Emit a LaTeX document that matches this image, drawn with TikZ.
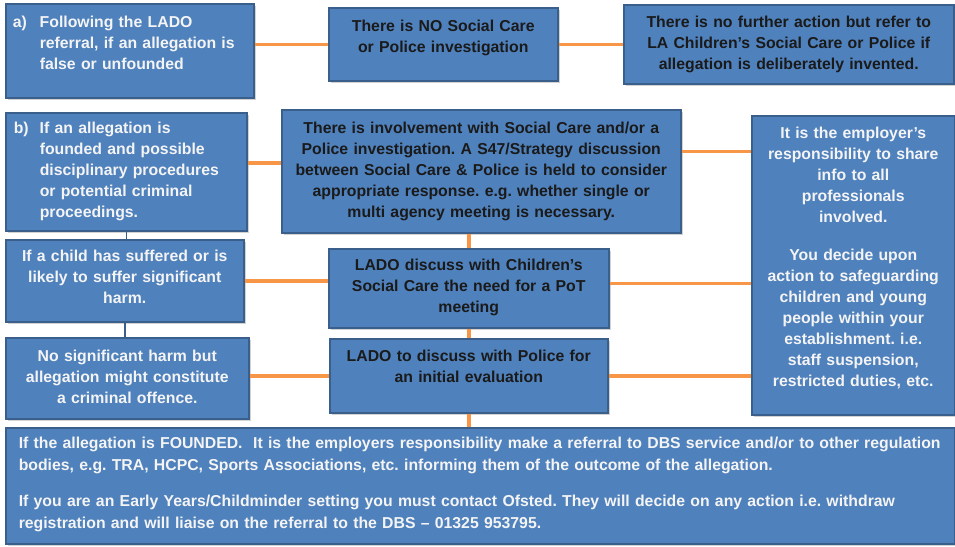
\documentclass[tikz,border=0pt]{standalone}
\usepackage{fontspec}
\setmainfont{Liberation Sans}
\usetikzlibrary{shadows}
\definecolor{boxfill}{HTML}{4F81BD}
\definecolor{boxline}{HTML}{3A5F8B}
\definecolor{linkor}{HTML}{F79646}
\definecolor{darktxt}{HTML}{1A1A1A}
\definecolor{lighttxt}{HTML}{F4F4F4}
\frenchspacing

\begin{document}
\begin{tikzpicture}[x=1pt,y=-1pt,
  every node/.style={font=\fontsize{15.8}{21}\selectfont\bfseries},
  blk/.style={draw=boxline,fill=boxfill,line width=1.5pt,anchor=north west,inner xsep=5pt,inner ysep=0pt,
    drop shadow={shadow xshift=2pt,shadow yshift=-2pt,opacity=0.35}},
  wtxt/.style={blk,text=lighttxt},
  dtxt/.style={blk,text=darktxt},
  link/.style={linkor,line width=3.5pt},
  bluelink/.style={boxline,line width=1.5pt}]
\fill[white] (0,0) rectangle (955,546);
\useasboundingbox (0,0) rectangle (955,546);

\node[wtxt,align=left,text width=238pt,text height=24pt,text depth=70pt] (lado_a) at (5,3)
  {\makebox[29pt][l]{\hspace{2pt}a)}Following the LADO\\\hspace*{29pt}referral, if an allegation is\\\hspace*{29pt}false or unfounded};
\node[dtxt,align=center,text width=219pt,text height=23.5pt,text depth=49.5pt] (nosc) at (328,7)
  {There is NO Social Care\\or Police investigation};
\node[dtxt,align=center,text width=320pt,text height=23pt,text depth=56pt] (nofur) at (623,4)
  {There is no further action but refer to\\LA Children's Social Care or Police if\\allegation is deliberately invented.};

\node[wtxt,align=left,text width=231pt,text height=21pt,text depth=97pt] (lado_b) at (5,112)
  {\makebox[29pt][l]{\hspace{3pt}b)}If an allegation is\\\hspace*{29pt}founded and possible\\\hspace*{29pt}disciplinary procedures\\\hspace*{29pt}or potential criminal\\\hspace*{29pt}proceedings.};
\node[dtxt,align=center,text width=389pt,text height=24pt,text depth=99pt] (s47) at (281,109)
  {There is involvement with Social Care and/or a\\Police investigation. A S47/Strategy discussion\\between Social Care \& Police is held to consider\\appropriate response. e.g. whether single or\\multi agency meeting is necessary.};
\node[wtxt,align=center,text width=193pt,text height=23pt,text depth=276pt] (emp) at (751,115)
  {It is the employer's\\responsibility to share\\info to all\\professionals\\involved.\\[17pt]You decide upon\\action to safeguarding\\children and young\\people within your\\establishment. i.e.\\staff suspension,\\restricted duties, etc.};

\node[wtxt,align=center,text width=228pt,text height=22pt,text depth=60pt] (child) at (5,239)
  {If a child has suffered or is\\likely to suffer significant\\harm.};
\node[dtxt,align=center,text width=270pt,text height=22pt,text depth=57pt] (losc) at (328,248)
  {LADO discuss with Children's\\Social Care the need for a PoT\\meeting};

\node[wtxt,align=center,text width=233pt,text height=24pt,text depth=57pt] (nharm) at (5,337)
  {No significant harm but\\allegation might constitute\\a criminal offence.};
\node[dtxt,align=center,text width=268pt,text height=23pt,text depth=51pt] (lpol) at (329,338)
  {LADO to discuss with Police for\\an initial evaluation};

\node[wtxt,align=left,inner xsep=13pt,text width=923pt,text height=21pt,text depth=95pt,
  font=\fontsize{15.8}{22}\selectfont\bfseries] (found) at (5,427)
  {If the allegation is FOUNDED.\ \ It is the employers responsibility make a referral to DBS service and/or to other regulation\\bodies, e.g. TRA, HCPC, Sports Associations, etc. informing them of the outcome of the allegation.\\[14pt]If you are an Early Years/Childminder setting you must contact Ofsted. They will decide on any action i.e. withdraw\\registration and will liaise on the referral to the DBS -- 01325 953795.};

\draw[link] (lado_a.east |- nosc.west) -- (nosc.west);
\draw[link] (nosc.east) -- (nosc.east -| nofur.west);
\draw[link] ([yshift=9pt]lado_b.east) -- ([yshift=9pt]lado_b.east -| s47.west);
\draw[link] ([yshift=20pt]s47.east) -- ([yshift=20pt]s47.east -| emp.west);
\draw[link] (s47.south -| losc.north) -- (losc.north);
\draw[link] (child.east) -- (child.east -| losc.west);
\draw[link] ([yshift=5pt]losc.east) -- ([yshift=5pt]losc.east -| emp.west);
\draw[link] (losc.south) -- (lpol.north);
\draw[link] (nharm.east |- lpol.west) -- (lpol.west);
\draw[link] (lpol.east) -- (lpol.east -| emp.west);
\draw[link] (lpol.south) -- (lpol.south |- found.north);
\draw[bluelink] (lado_b.south) -- (lado_b.south |- child.north);
\draw[bluelink] (child.south) -- (child.south |- nharm.north);
\end{tikzpicture}
\end{document}
